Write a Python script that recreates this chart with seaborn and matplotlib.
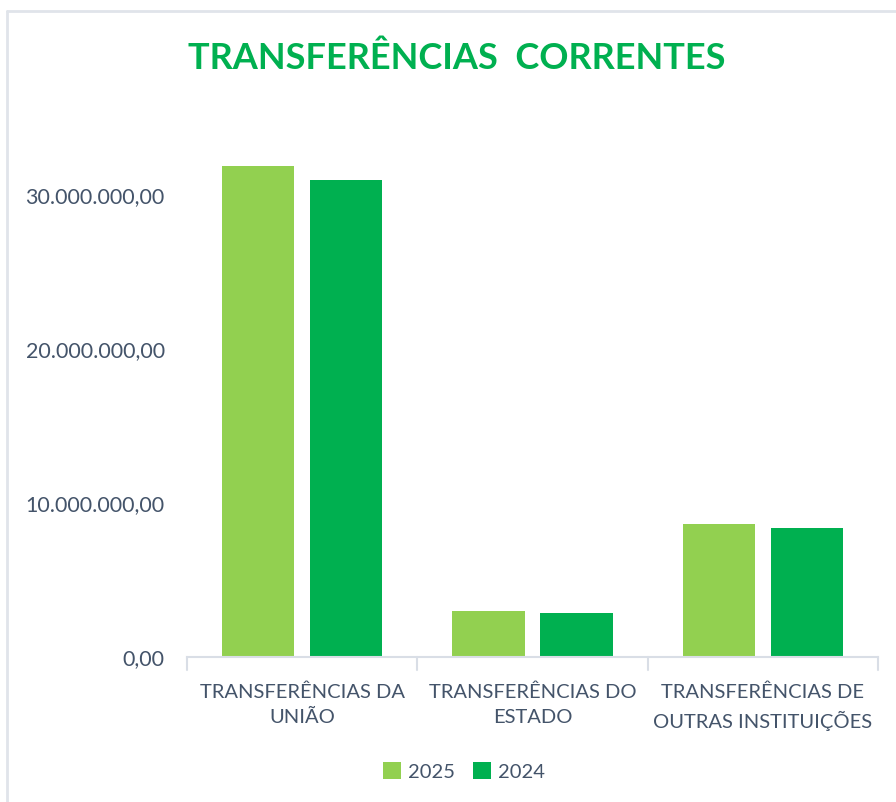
"""Transferências correntes: 2025 vs 2024."""

import matplotlib.pyplot as plt
import pandas as pd
import seaborn as sns
from matplotlib.lines import Line2D
from matplotlib.patches import Patch
from matplotlib.ticker import FuncFormatter

CATEGORIES = [
    "TRANSFERÊNCIAS DA\nUNIÃO",
    "TRANSFERÊNCIAS DO\nESTADO",
    "TRANSFERÊNCIAS DE\nOUTRAS INSTITUIÇÕES",
]
YEARS = ["2025", "2024"]
VALUES_2025 = [31_900_000, 2_990_000, 8_640_000]
VALUES_2024 = [30_970_000, 2_860_000, 8_380_000]

COLORS = {"2025": "#92D050", "2024": "#00B050"}
TEXT = "#44546A"
AXIS = "#D9DEE6"
FONT = ["Lato", "DejaVu Sans"]


def brl(x, _pos):
    s = f"{x:,.2f}"
    return s.replace(",", "X").replace(".", ",").replace("X", ".")


def main() -> None:
    sns.set_theme(style="white")
    plt.rcParams["font.family"] = FONT

    df = pd.DataFrame({
        "categoria": CATEGORIES * 2,
        "ano": [YEARS[0]] * 3 + [YEARS[1]] * 3,
        "valor": VALUES_2025 + VALUES_2024,
    })

    fig = plt.figure(figsize=(8.96, 8.02), dpi=100)
    ax = fig.add_axes([0.2087, 0.1808, 0.7713, 0.672])

    sns.barplot(
        data=df, x="categoria", y="valor", hue="ano", hue_order=YEARS,
        palette=COLORS, width=0.765, gap=0.18, legend=False, ax=ax,
        saturation=1, edgecolor="none",
    )

    ax.set_ylim(0, 35_000_000)
    ax.set_xlim(-0.5, 2.5)
    ax.set_yticks([0, 10_000_000, 20_000_000, 30_000_000])
    ax.yaxis.set_major_formatter(FuncFormatter(brl))
    ax.set_xlabel("")
    ax.set_ylabel("")
    for side in ["top", "right", "left"]:
        ax.spines[side].set_visible(False)
    ax.spines["bottom"].set_color(AXIS)
    ax.spines["bottom"].set_linewidth(1.5)

    ax.tick_params(axis="y", length=0, pad=16, labelsize=15.5, labelcolor=TEXT)
    ax.tick_params(axis="x", length=0, pad=19, labelsize=14.5, labelcolor=TEXT)
    for lbl in ax.get_xticklabels():
        lbl.set_linespacing(1.6)

    # category separators on the axis
    for xb in [-0.5, 0.5, 1.5, 2.5]:
        ax.plot([xb, xb], [0, -0.025], transform=ax.get_xaxis_transform(),
                color=AXIS, lw=1.5, clip_on=False)

    fig.text(0.51, 0.927, "TRANSFERÊNCIAS  CORRENTES", ha="center", va="center",
             fontsize=26, fontweight="bold", color="#00B050")

    handles = [Patch(facecolor=COLORS[y], edgecolor="none") for y in YEARS]
    fig.legend(handles, YEARS, loc="center", bbox_to_anchor=(0.518, 0.038),
               ncol=2, frameon=False, fontsize=14.5, labelcolor=TEXT,
               handlelength=0.9, handleheight=0.9, handletextpad=0.35,
               columnspacing=0.9)

    # chart-area border
    fig.add_artist(Line2D([0.008, 0.008], [0, 0.986], color="#E0E4EA", lw=2))
    fig.add_artist(Line2D([0.008, 1.0], [0.986, 0.986], color="#E0E4EA", lw=2))

    fig.savefig("out.png", dpi=100)
    plt.close(fig)


if __name__ == "__main__":
    main()
